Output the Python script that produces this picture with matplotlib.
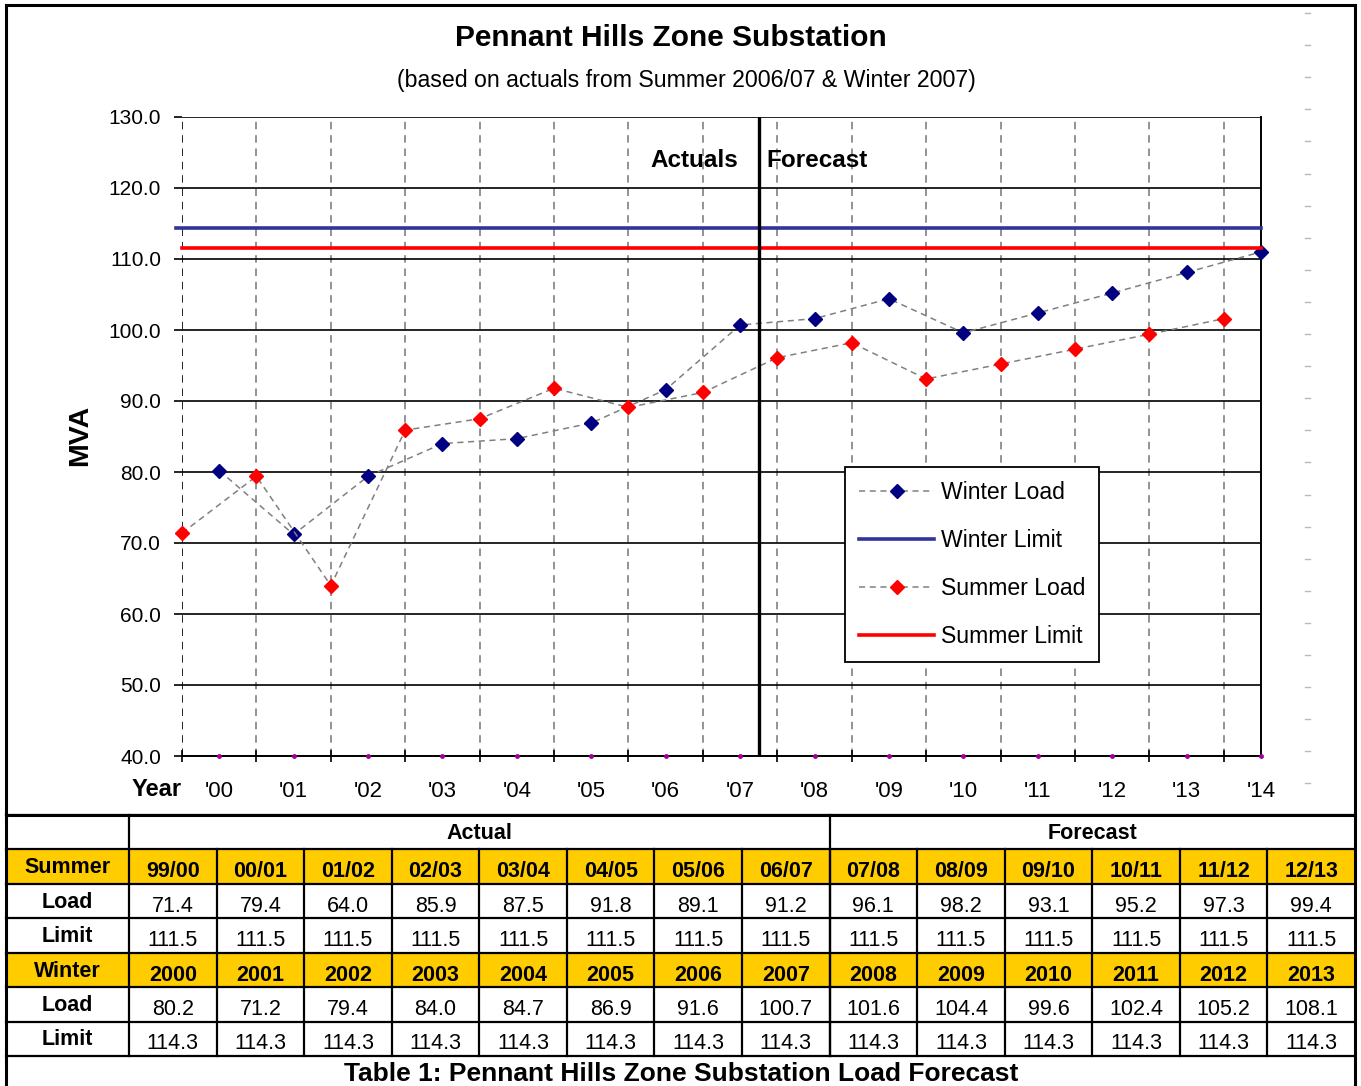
import matplotlib
matplotlib.use("Agg")
import matplotlib.pyplot as plt
import numpy as np
from matplotlib.patches import Rectangle

# ---------------- data ----------------
summer_labels = ['99/00', '00/01', '01/02', '02/03', '03/04', '04/05', '05/06',
                 '06/07', '07/08', '08/09', '09/10', '10/11', '11/12', '12/13']
summer_load = [71.4, 79.4, 64.0, 85.9, 87.5, 91.8, 89.1, 91.2, 96.1, 98.2, 93.1, 95.2, 97.3, 99.4]
summer_limit = [111.5] * 14
winter_labels = ['2000', '2001', '2002', '2003', '2004', '2005', '2006',
                 '2007', '2008', '2009', '2010', '2011', '2012', '2013']
winter_load = [80.2, 71.2, 79.4, 84.0, 84.7, 86.9, 91.6, 100.7, 101.6, 104.4, 99.6, 102.4, 105.2, 108.1]
winter_limit = [114.3] * 14
# extra forecast points shown on the chart only (13/14 summer, 2014 winter)
summer_load_chart = summer_load + [101.6]
winter_load_chart = winter_load + [111.0]
baseline_dots = [40.0] * 15
year_ticks = ["'00", "'01", "'02", "'03", "'04", "'05", "'06", "'07",
              "'08", "'09", "'10", "'11", "'12", "'13", "'14"]
n_actual = 8  # columns of actuals in the table

# ---------------- layout ----------------
W, H = 1361, 1086
FONT = ['Liberation Sans', 'DejaVu Sans']

fig = plt.figure(figsize=(W / 100, H / 100), dpi=100)

# overlay for borders and table (pixel coords)
ov = fig.add_axes([0, 0, 1, 1])
ov.set_xlim(0, W)
ov.set_ylim(H, 0)
ov.axis('off')

ax = fig.add_axes([182 / W, 1 - 756 / H, (1261 - 182) / W, (756 - 117) / H])

xs_summer = np.arange(len(summer_load_chart), dtype=float)
xs_winter = np.arange(len(winter_load_chart), dtype=float) + 0.5

grey = '#808080'
# vertical dashed gridlines at summer positions
for xv in xs_summer[1:]:
    ax.axvline(xv, color=grey, lw=1.2, ls=(0, (4.5, 3.5)), zorder=1)
ax.axvline(0, color='black', lw=1.2, ls=(0, (4.5, 3.5)), zorder=1)
# horizontal solid gridlines
for yv in range(40, 131, 10):
    ax.axhline(yv, color='black', lw=1.2, zorder=1)

wl, = ax.plot(xs_winter, winter_load_chart, color=grey, lw=1.1, ls=(0, (4, 3)),
              marker='D', markersize=7, markerfacecolor='#000080', markeredgecolor='#000080',
              zorder=3, clip_on=False, label='Winter Load')
sl, = ax.plot(xs_summer, summer_load_chart, color=grey, lw=1.1, ls=(0, (4, 3)),
              marker='D', markersize=7, markerfacecolor='#FF0000', markeredgecolor='#FF0000',
              zorder=3, clip_on=False, label='Summer Load')
x_end = xs_winter[-1]
wlim, = ax.plot([-0.08, x_end], [winter_limit[0], winter_limit[0]], color='#333399', lw=2.6,
                zorder=4, clip_on=False, label='Winter Limit')
slim, = ax.plot([0, x_end], [summer_limit[0], summer_limit[0]], color='#FF0000', lw=2.6,
                zorder=4, clip_on=False, label='Summer Limit')
ax.plot(xs_winter, baseline_dots, ls='none', marker='o', markersize=2.5,
        color='#A000A0', zorder=5, clip_on=False)

# actual / forecast divider
ax.axvline(n_actual - 0.25, color='black', lw=2.4, zorder=5)
ax.text(n_actual - 0.53, 123.9, 'Actuals', ha='right', va='center', fontsize=17.5,
        fontweight='bold', family=FONT)
ax.text(n_actual - 0.15, 123.9, 'Forecast', ha='left', va='center', fontsize=17.5,
        fontweight='bold', family=FONT)

ax.set_xlim(0, x_end)
ax.set_ylim(40, 130)
for s in ['top', 'left']:
    ax.spines[s].set_visible(False)
ax.spines['right'].set_linewidth(1.4)
ax.spines['bottom'].set_linewidth(1.4)

ax.set_yticks(np.arange(40, 131, 10))
ax.set_yticklabels([f'{v:.1f}' for v in np.arange(40, 131, 10)], family=FONT, fontsize=15)
ax.tick_params(axis='y', direction='out', length=6, width=1.2, pad=9)
ax.set_xticks(xs_summer)
ax.set_xticklabels([])
ax.tick_params(axis='x', which='major', direction='inout', length=8, width=1.2)
ax.set_xticks(xs_winter, minor=True)
ax.set_xticklabels(year_ticks, minor=True, family=FONT, fontsize=16)
ax.tick_params(axis='x', which='minor', length=0, pad=18)

fig.text(80 / W, 1 - 435 / H, 'MVA', rotation=90, ha='center', va='center', fontsize=20.5,
         fontweight='bold', family=FONT)

leg = ax.legend([wl, wlim, sl, slim], ['Winter Load', 'Winter Limit', 'Summer Load', 'Summer Limit'],
                loc='upper left', bbox_to_anchor=((845 - 182) / 1079, (756 - 467) / 639),
                borderaxespad=0, frameon=True, fancybox=False, framealpha=1, edgecolor='black',
                prop={'family': FONT, 'size': 16.6}, handlelength=3.25, handletextpad=0.28,
                labelspacing=1.08, borderpad=0.62)
leg.get_frame().set_linewidth(1.3)
leg.set_zorder(10)

# titles
fig.text(671 / W, 1 - 38 / H, 'Pennant Hills Zone Substation', ha='center', va='center',
         fontsize=21.5, fontweight='bold', family=FONT)
fig.text(686 / W, 1 - 81 / H, '(based on actuals from Summer 2006/07 & Winter 2007)',
         ha='center', va='center', fontsize=16.7, family=FONT)
fig.text(157 / W, 1 - 789 / H, 'Year', ha='center', va='center', fontsize=17,
         fontweight='bold', family=FONT)

# faint artifact dashes on right
for yy in np.arange(13, 800, 32.1):
    ov.plot([1305, 1310], [yy, yy], color='#b8b8b8', lw=1)

# ---------------- table ----------------
tx0, tx1, tx2 = 6, 129, 1355
ncol = len(summer_labels)
cw = (tx2 - tx1) / ncol
ty0 = 815
rh = 34.45
yellow = '#FFCC00'
tfs = 15.5
rows = [
    ('Summer', summer_labels, True),
    ('Load', [f'{v:.1f}' for v in summer_load], False),
    ('Limit', [f'{v:.1f}' for v in summer_limit], False),
    ('Winter', winter_labels, True),
    ('Load', [f'{v:.1f}' for v in winter_load], False),
    ('Limit', [f'{v:.1f}' for v in winter_limit], False),
]
for r, (lab, vals, hdr) in enumerate(rows):
    top = ty0 + rh * (r + 1)
    if hdr:
        ov.add_patch(Rectangle((tx0, top), tx2 - tx0, rh, facecolor=yellow, edgecolor='none', zorder=1))
    ov.text((tx0 + tx1) / 2, top + rh / 2 + 1, lab, ha='center', va='center', fontsize=tfs,
            fontweight='bold', family=FONT, zorder=3)
    for c, v in enumerate(vals):
        ov.text(tx1 + cw * (c + 0.5), top + rh / 2 + 5, v, ha='center', va='center', fontsize=tfs,
                fontweight='bold' if hdr else 'normal', family=FONT, zorder=3)

# header row
xa = tx1 + cw * n_actual
ov.text((tx1 + xa) / 2, ty0 + rh / 2 + 1, 'Actual', ha='center', va='center', fontsize=tfs,
        fontweight='bold', family=FONT)
ov.text((xa + tx2) / 2, ty0 + rh / 2 + 1, 'Forecast', ha='center', va='center', fontsize=tfs,
        fontweight='bold', family=FONT)

lk = dict(color='black', lw=1.6, zorder=2, solid_capstyle='projecting')
ybot = ty0 + rh * 7
for r in range(8):
    yy = ty0 + rh * r
    ov.plot([tx0, tx2], [yy, yy], **lk)
ov.plot([tx1, tx1], [ty0, ybot], **lk)
ov.plot([xa, xa], [ty0, ybot], **lk)
for c in range(1, ncol):
    xx = tx1 + cw * c
    ov.plot([xx, xx], [ty0 + rh, ybot], **lk)

ov.text(681, ybot + 18, 'Table 1: Pennant Hills Zone Substation Load Forecast', ha='center',
        va='center', fontsize=19, fontweight='bold', family=FONT)

# outer border
bk = dict(color='black', lw=2.2, zorder=2, solid_capstyle='projecting')
ov.plot([tx0, tx2], [5, 5], **bk)
ov.plot([tx0, tx0], [5, H], **bk)
ov.plot([tx2, tx2], [5, H], **bk)
ov.plot([tx0, tx2], [ty0, ty0], **bk)

fig.savefig('out.png', dpi=100)
